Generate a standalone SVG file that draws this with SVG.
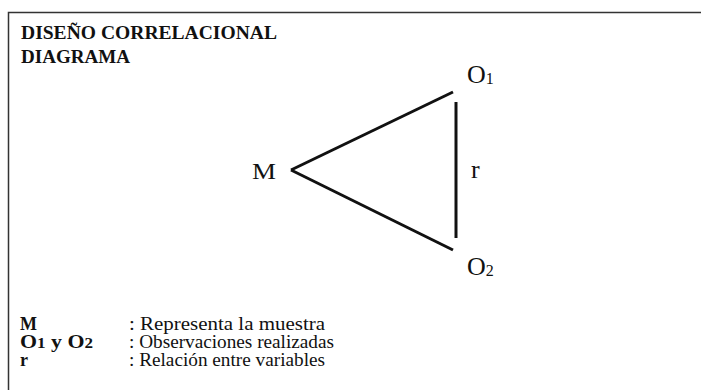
<svg xmlns="http://www.w3.org/2000/svg" width="701" height="390" viewBox="0 0 701 390">
<style>
text{font-family:"Liberation Serif","Times New Roman",serif;fill:#111}
.b{font-weight:bold}
.t{font-size:19px}
.l{font-size:18px}
.c{stroke:#111;stroke-width:3;fill:none;stroke-linecap:butt}
</style>
<rect width="701" height="390" fill="#fff"/>
<path d="M8.5 395V12.5H710" stroke="#333" stroke-width="1.5" fill="none"/>
<g id="title">
<text class="t b" x="21" y="39" textLength="256" lengthAdjust="spacingAndGlyphs">DISEÑO CORRELACIONAL</text>
<text class="t b" x="21" y="63" textLength="109" lengthAdjust="spacingAndGlyphs">DIAGRAMA</text>
</g>
<g id="connectors">
<line class="c" x1="291" y1="170" x2="453" y2="92"/>
<line class="c" x1="291" y1="170" x2="453" y2="250"/>
<line class="c" x1="456" y1="102" x2="456" y2="238"/>
</g>
<g id="node-M"><text x="252" y="179" font-size="23" textLength="24" lengthAdjust="spacingAndGlyphs">M</text></g>
<g id="node-O1"><text x="467" y="83" font-size="26">O<tspan font-size="16" dy="1">1</tspan></text></g>
<g id="node-O2"><text x="467" y="275" font-size="26">O<tspan font-size="16" dy="1">2</tspan></text></g>
<g id="label-r"><text x="471" y="178" font-size="26">r</text></g>
<g id="legend">
<text class="l b" x="20" y="330">M</text>
<text class="l b" x="20" y="348" textLength="73" lengthAdjust="spacingAndGlyphs">O<tspan font-size="14">1</tspan><tspan> y O</tspan><tspan font-size="14">2</tspan></text>
<text class="l b" x="20" y="366">r</text>
<text class="l" x="129" y="330" textLength="196" lengthAdjust="spacingAndGlyphs">: Representa la muestra</text>
<text class="l" x="129" y="348" textLength="205" lengthAdjust="spacingAndGlyphs">: Observaciones realizadas</text>
<text class="l" x="129" y="366" textLength="196" lengthAdjust="spacingAndGlyphs">: Relación entre variables</text>
</g>
</svg>
